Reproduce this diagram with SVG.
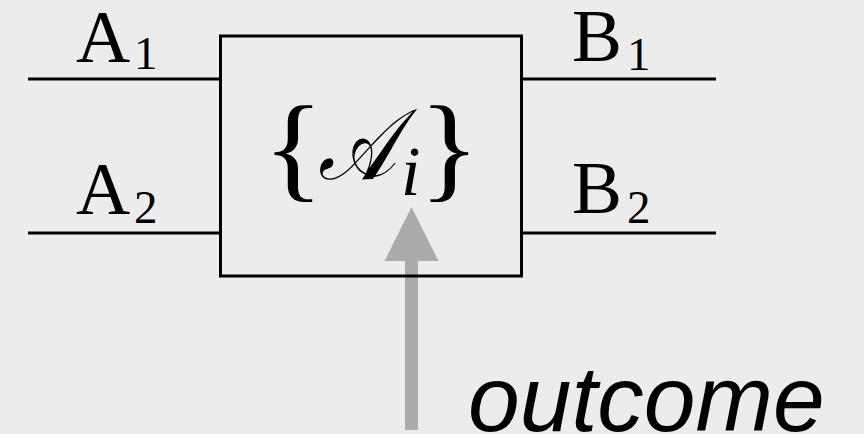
<svg xmlns="http://www.w3.org/2000/svg" width="864" height="434" viewBox="0 0 864 434">
<style>
.wire{stroke:#000;stroke-width:3;fill:none}
.lbl{font-family:"Liberation Serif","DejaVu Serif",serif;fill:#000}
.big{font-size:75px}
.sub{font-size:47px}
</style>
<rect width="864" height="434" fill="#ececec"/>
<g id="connectors">
<line class="wire" x1="28" y1="79" x2="220" y2="79"/>
<line class="wire" x1="28" y1="233" x2="220" y2="233"/>
<line class="wire" x1="522" y1="79" x2="716" y2="79"/>
<line class="wire" x1="522" y1="233" x2="716" y2="233"/>
<g id="outcome-arrow">
<rect x="405" y="258" width="13" height="172" fill="#ababab"/>
<polygon points="411.5,207 438.5,261 384.5,261" fill="#ababab"/>
</g>
</g>
<g id="box">
<rect x="220.5" y="36" width="301" height="240" class="wire"/>
<g class="lbl">
<text transform="translate(263,186) scale(1.15,1.06)" font-size="110">{</text>
<text transform="translate(318,179) scale(0.82,1)" font-size="100" font-family="DejaVu Serif,serif" font-style="italic">𝒜</text>
<text x="401" y="195" font-size="70" font-style="italic">i</text>
<text transform="translate(419,186) scale(1.15,1.06)" font-size="110">}</text>
</g>
</g>
<g id="A1" class="lbl"><text class="big" x="76" y="62">A</text><text class="sub" x="134" y="69">1</text></g>
<g id="A2" class="lbl"><text class="big" x="76" y="214">A</text><text class="sub" x="134" y="223">2</text></g>
<g id="B1" class="lbl"><text class="big" x="572" y="61">B</text><text class="sub" x="627" y="70">1</text></g>
<g id="B2" class="lbl"><text class="big" x="572" y="213">B</text><text class="sub" x="627" y="223">2</text></g>
<g id="outcome"><text x="468" y="431" font-family="Liberation Sans,Arial,sans-serif" font-style="italic" font-size="93">outcome</text></g>
</svg>
